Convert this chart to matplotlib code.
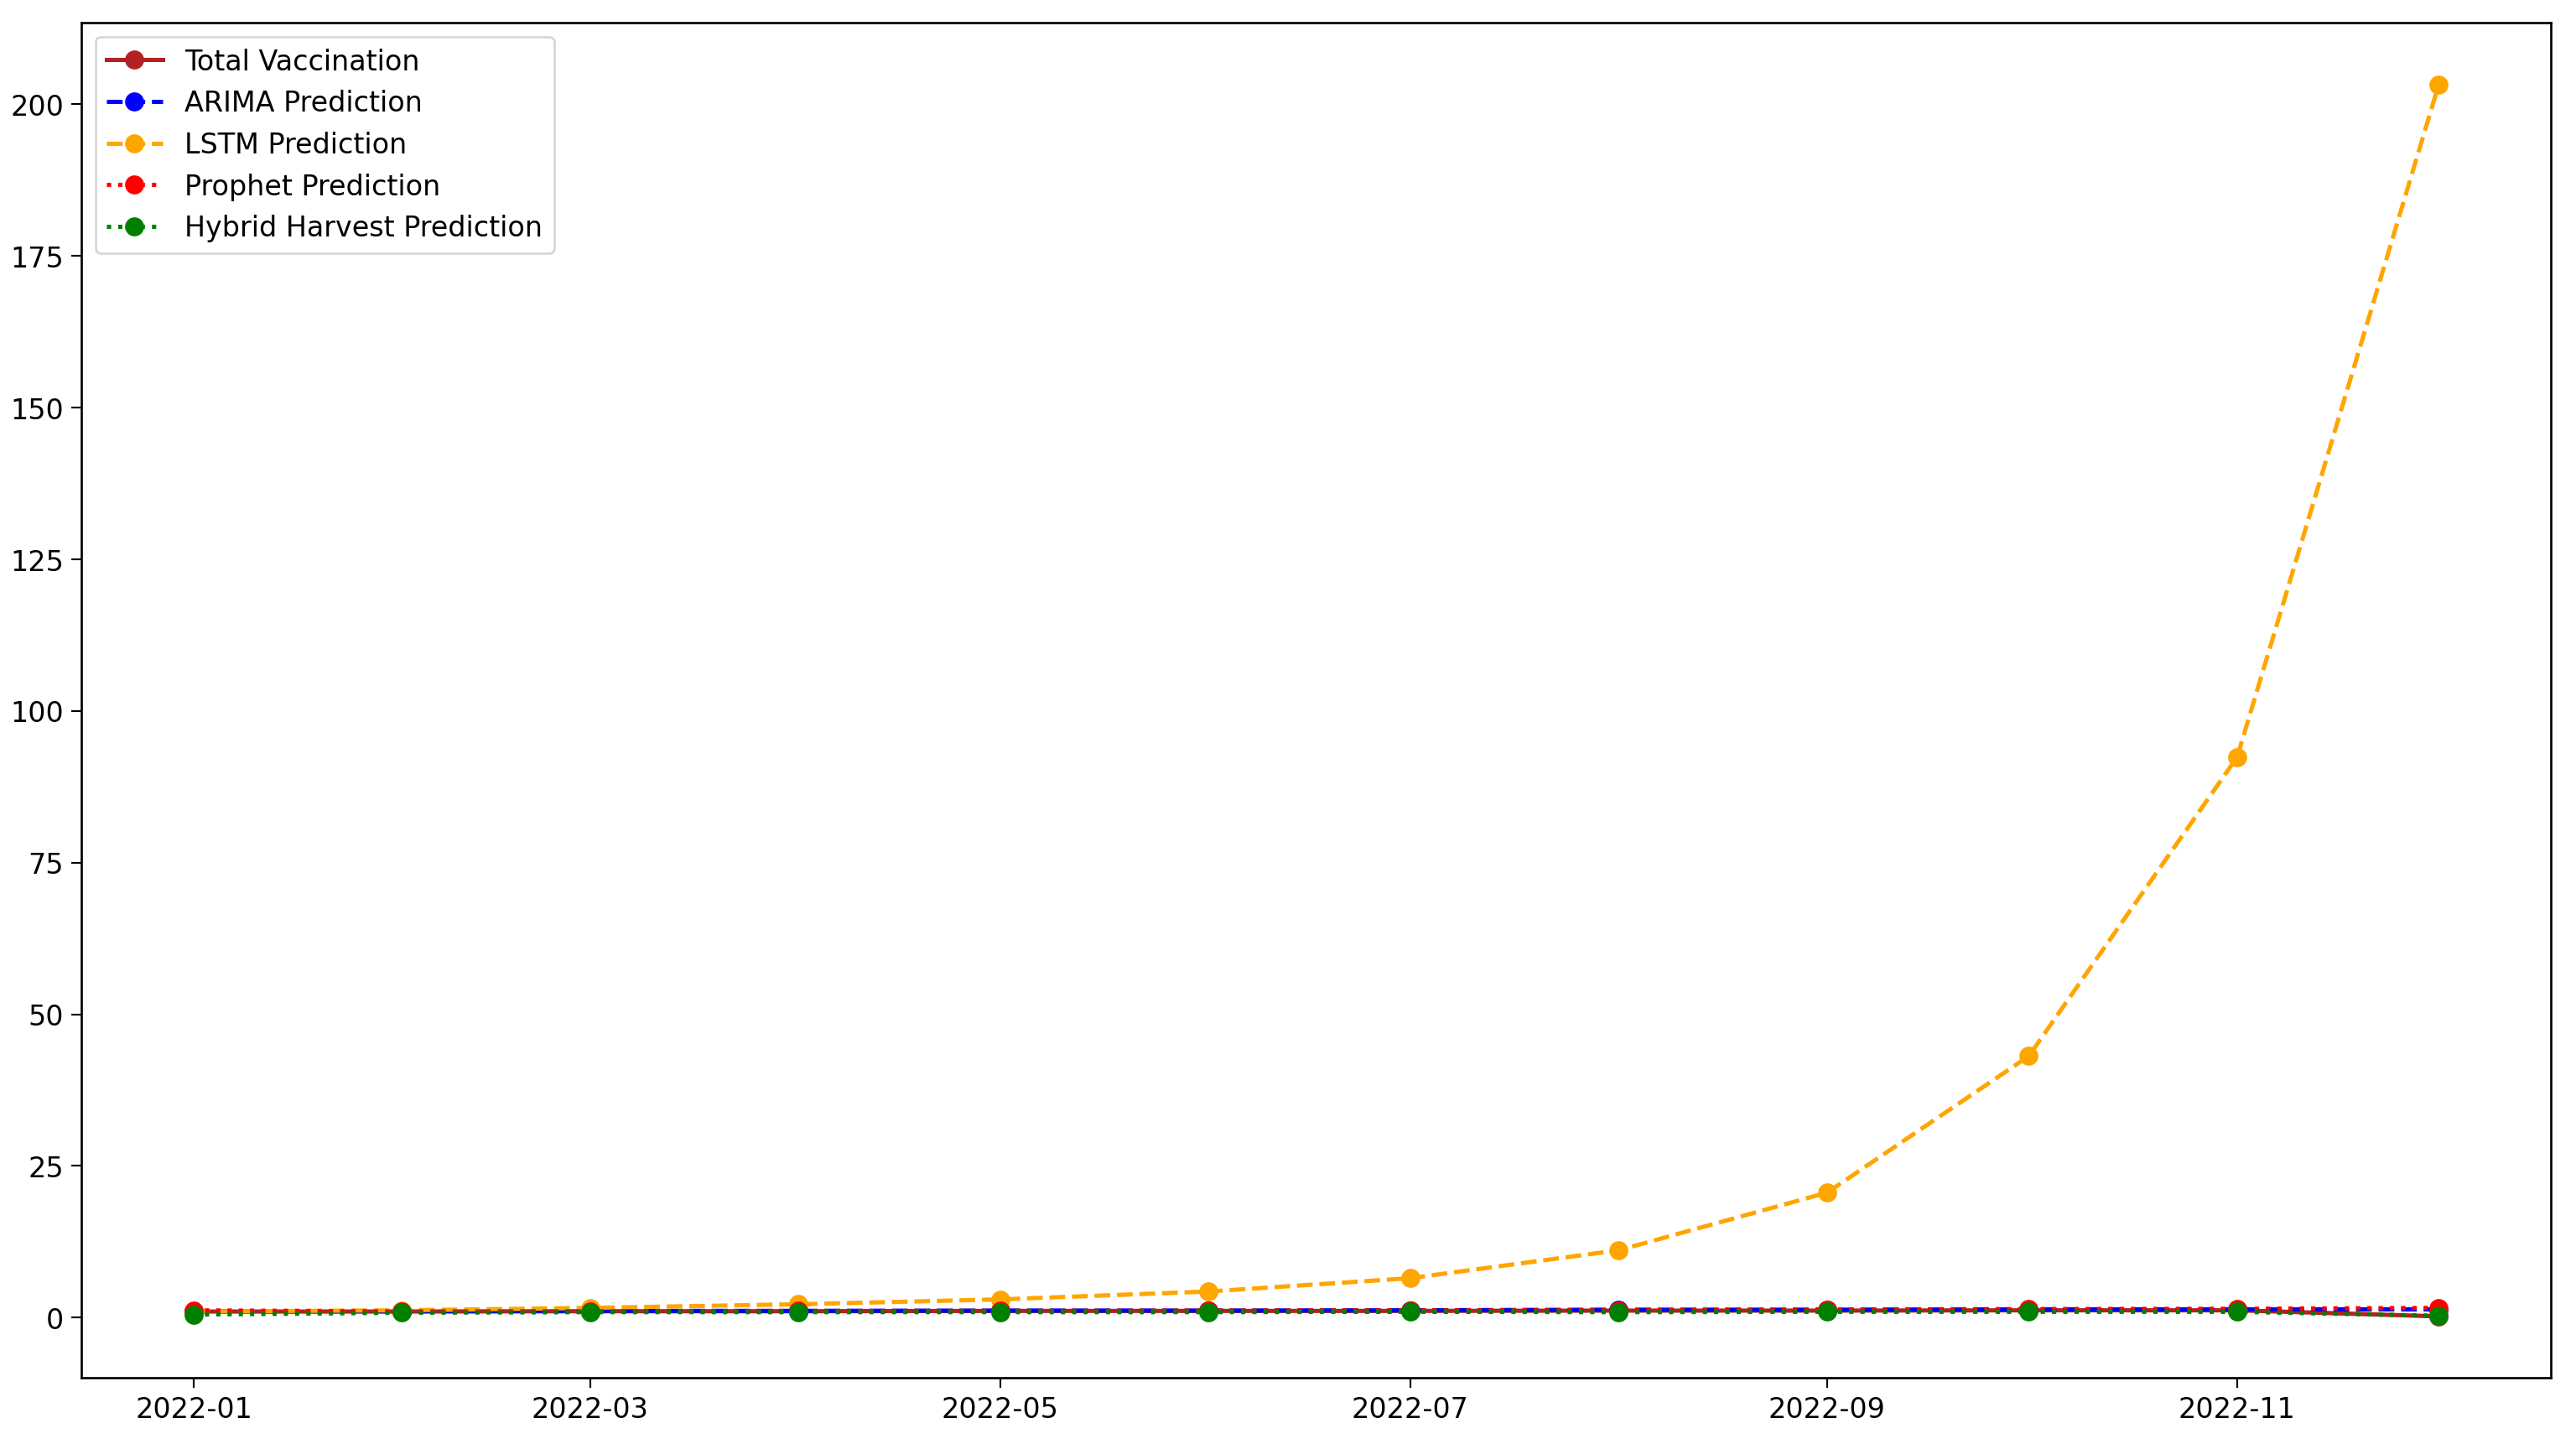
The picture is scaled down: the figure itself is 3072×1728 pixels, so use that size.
import pandas as pd
import matplotlib
matplotlib.use("Agg")
import matplotlib.pyplot as plt

dates = pd.date_range("2022-01-01", periods=12, freq="MS")

total_vacc = [1.0, 1.0, 1.05, 1.05, 1.1, 1.1, 1.1, 1.15, 1.15, 1.2, 1.2, 0.2]
arima_pred = [1.0, 1.05, 1.1, 1.1, 1.15, 1.15, 1.2, 1.3, 1.3, 1.35, 1.35, 1.35]
lstm_pred = [1.0, 1.2, 1.6, 2.2, 3.0, 4.3, 6.5, 11.1, 20.6, 43.1, 92.4, 203.3]
prophet_pred = [1.2, 1.0, 1.05, 1.1, 1.1, 1.15, 1.2, 1.2, 1.35, 1.4, 1.45, 1.6]
hybrid_pred = [0.5, 0.8, 0.9, 0.9, 0.9, 0.9, 0.95, 0.9, 0.95, 0.95, 0.95, 0.3]

# source was rendered at a lower dpi, so everything is a bit bigger
plt.rcParams['font.size'] = 12.5
plt.rcParams['lines.linewidth'] = 1.9
plt.rcParams['lines.markersize'] = 7.5
plt.rcParams['xtick.major.size'] = 4.4
plt.rcParams['ytick.major.size'] = 4.4
plt.rcParams['axes.linewidth'] = 1.0

fig, ax = plt.subplots(figsize=(16, 9))
fig.subplots_adjust(left=0.0316, right=0.99, top=0.984, bottom=0.049)

ax.plot(dates, total_vacc, marker='o', linestyle='-', color='firebrick', label='Total Vaccination')
ax.plot(dates, arima_pred, marker='o', linestyle='--', color='blue', label='ARIMA Prediction')
ax.plot(dates, lstm_pred, marker='o', linestyle='--', color='orange', label='LSTM Prediction')
ax.plot(dates, prophet_pred, marker='o', linestyle=':', color='red', label='Prophet Prediction')
ax.plot(dates, hybrid_pred, marker='o', linestyle=':', color='green', label='Hybrid Harvest Prediction')

ax.legend(loc='upper left')
fig.savefig('out.png', dpi=192.06)
